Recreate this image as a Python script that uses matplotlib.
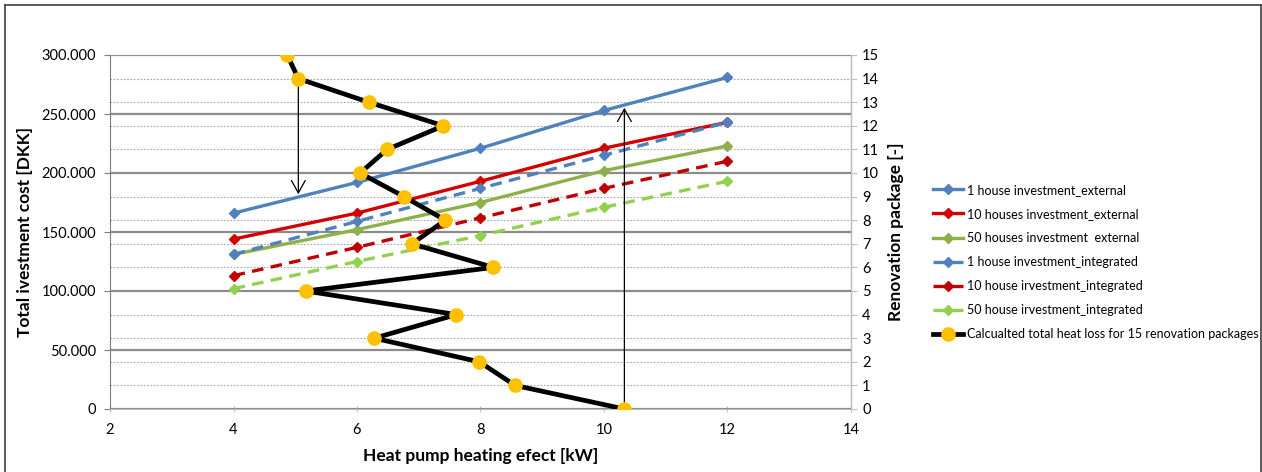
import matplotlib.pyplot as plt
import numpy as np
from matplotlib.lines import Line2D
from matplotlib.ticker import FuncFormatter, MultipleLocator

plt.rcParams["font.family"] = ["Lato", "DejaVu Sans"]

# --- data ---
heat_pump_kw = [4, 6, 8, 10, 12]
house1_ext = [166000, 192000, 221000, 253000, 281000]
houses10_ext = [144000, 166000, 193000, 221000, 243000]
houses50_ext = [131000, 152000, 175000, 202000, 223000]
house1_int = [131000, 159000, 187000, 215000, 243000]
house10_int = [113000, 137000, 162000, 187000, 210000]
house50_int = [102000, 125000, 147000, 171000, 193000]

package_no = list(range(16))
package_heat_loss = [10.33, 8.56, 7.98, 6.28, 7.61, 5.17, 8.21, 6.89,
                     7.43, 6.76, 6.05, 6.49, 7.40, 6.19, 5.05, 4.87]

labels = [
    "1 house investment_external",
    "10 houses investment_external",
    "50 houses investment  external",
    "1 house investment_integrated",
    "10 house irvestment_integrated",
    "50 house irvestment_integrated",
    "Calcualted total heat loss for 15 renovation packages",
]

fig = plt.figure(figsize=(12.62, 4.72), dpi=100)
ax = fig.add_axes([110 / 1262, 1 - 409 / 472, 741 / 1262, 354 / 472])
ax2 = ax.twinx()

# --- investment lines ---
kw = dict(marker="D", markersize=5, lw=2.4)
ax.plot(heat_pump_kw, house1_ext, c="#4F81BD", label=labels[0], **kw)
ax.plot(heat_pump_kw, houses10_ext, c="#D40000", label=labels[1], **kw)
ax.plot(heat_pump_kw, houses50_ext, c="#8DB04A", label=labels[2], **kw)
ax.plot(heat_pump_kw, house1_int, c="#4F81BD", ls=(0, (3.5, 2.2)), label=labels[3], **kw)
ax.plot(heat_pump_kw, house10_int, c="#C00000", ls=(0, (3.5, 2.2)), label=labels[4], **kw)
ax.plot(heat_pump_kw, house50_int, c="#92D050", ls=(0, (3.5, 2.2)), label=labels[5], **kw)

# --- renovation packages on the secondary axis ---
ax2.plot(package_heat_loss, package_no, c="black", lw=3.4, marker="o",
         markersize=9.5, markerfacecolor="#FFC000", markeredgecolor="#FFC000",
         label=labels[6], zorder=5)

# arrows linking packages to the investment curve
arrow = dict(arrowstyle="->,head_length=0.9,head_width=0.5", color="black", lw=0.9)
x_down = package_heat_loss[14]
y_down = np.interp(x_down, heat_pump_kw, house1_ext) / 20000
ax2.annotate("", xy=(x_down, y_down), xytext=(x_down, package_no[14]), arrowprops=arrow)
x_up = package_heat_loss[0]
y_up = np.interp(x_up, heat_pump_kw, house1_ext) / 20000
ax2.annotate("", xy=(x_up, y_up), xytext=(x_up, package_no[0]), arrowprops=arrow)

# --- axes ---
ax.set_xlim(2, 14)
ax.set_ylim(0, 300000)
ax2.set_ylim(0, 15)
ax.set_xticks(range(2, 15, 2))
ax.yaxis.set_major_locator(MultipleLocator(50000))
ax.yaxis.set_minor_locator(MultipleLocator(20000))
ax.yaxis.set_major_formatter(FuncFormatter(lambda v, p: f"{int(v):,}".replace(",", ".")))
ax2.set_yticks(range(16))

ax.grid(True, which="major", axis="y", color="#8C8C8C", lw=1.6)
ax.grid(True, which="minor", axis="y", color="#A6A6A6", lw=0.8, ls=(0, (1.5, 1.5)))
ax.set_axisbelow(True)

for a in (ax, ax2):
    a.spines["top"].set_visible(False)
ax.spines["left"].set_color("#7F7F7F")
ax.spines["bottom"].set_color("#BFBFBF")
ax2.spines["right"].set_color("#BFBFBF")
ax2.spines["left"].set_visible(False)
ax2.spines["bottom"].set_visible(False)

ax.tick_params(axis="y", which="major", length=4, color="#7F7F7F", labelsize=10.5, pad=6)
ax.tick_params(axis="y", which="minor", length=0)
ax.tick_params(axis="x", length=4, direction="inout", color="#BFBFBF", labelsize=10.5, pad=8)
ax2.tick_params(axis="y", length=4, color="#BFBFBF", labelsize=10.5, pad=4)

ax.set_xlabel("Heat pump heating efect [kW]", fontsize=12.5, fontweight="bold", labelpad=8)
ax.set_ylabel("Total ivestment cost [DKK]", fontsize=12.5, fontweight="bold", labelpad=6)
ax2.set_ylabel("Renovation package [-]", fontsize=12.5, fontweight="bold", labelpad=6)

# --- legend ---
h1, l1 = ax.get_legend_handles_labels()
h2, l2 = ax2.get_legend_handles_labels()
fig.legend(h1 + h2, l1 + l2, loc="center left", bbox_to_anchor=(928 / 1262, 1 - 262 / 472),
           frameon=False, fontsize=9.0, handlelength=2.4, handletextpad=0.3,
           labelspacing=0.97, borderaxespad=0)

# outer frame
for xs, ys in [((5 / 1262, 5 / 1262), (0, 1 - 5 / 472)),
               ((5 / 1262, 1261 / 1262), (1 - 5 / 472, 1 - 5 / 472)),
               ((1261 / 1262, 1261 / 1262), (0, 1 - 5 / 472))]:
    fig.add_artist(Line2D(xs, ys, transform=fig.transFigure, color="#404040", lw=1.2))

fig.savefig("out.png", dpi=100)
